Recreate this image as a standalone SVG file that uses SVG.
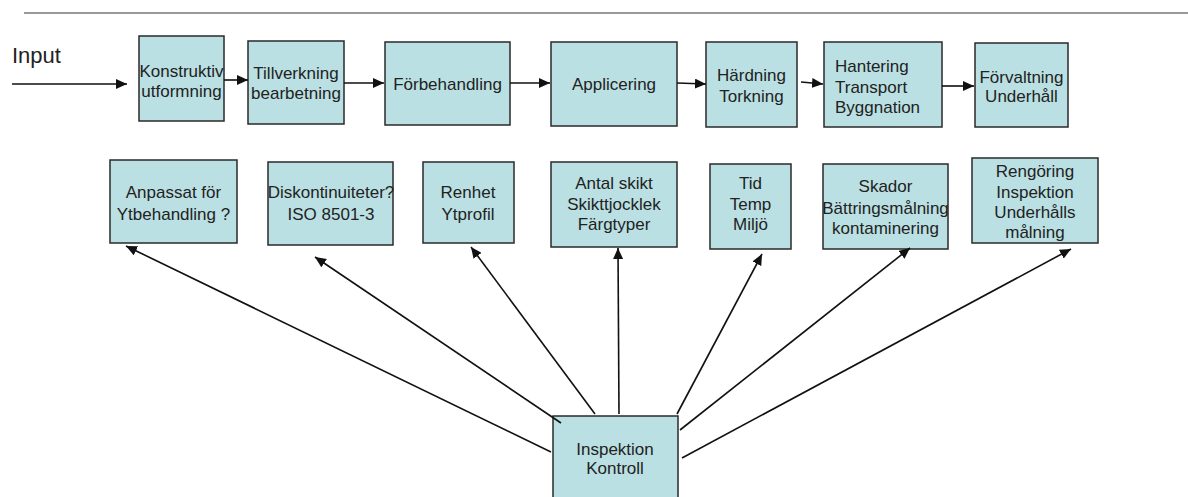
<svg xmlns="http://www.w3.org/2000/svg" width="1188" height="497" viewBox="0 0 1188 497">
<style>
.box{fill:#bae0e3;stroke:#2a2a2a;stroke-width:1.5}
.t{font-family:"Liberation Sans",Arial,sans-serif;font-size:17px;fill:#222;text-anchor:middle}
.tl{text-anchor:start}
.c{stroke:#111;stroke-width:1.6;fill:none;marker-end:url(#ah)}
</style>
<defs>
<marker id="ah" markerUnits="userSpaceOnUse" markerWidth="12" markerHeight="10" refX="11" refY="5" orient="auto">
<path d="M0,0 L11,5 L0,10 Z" fill="#111"/>
</marker>
</defs>
<rect width="1188" height="497" fill="#fff"/>
<line x1="24" y1="13" x2="1188" y2="13" stroke="#777" stroke-width="1.5"/>
<text x="12" y="63" style="font-family:'Liberation Sans',Arial,sans-serif;font-size:22px;fill:#222">Input</text>

<g id="n1"><rect class="box" x="139" y="36" width="85" height="85"/><text class="t" x="181.5" y="77">Konstruktiv</text><text class="t" x="181.5" y="97">utformning</text></g>
<g id="n2"><rect class="box" x="248" y="41" width="96" height="83"/><text class="t" x="296" y="79">Tillverkning</text><text class="t" x="296" y="99">bearbetning</text></g>
<g id="n3"><rect class="box" x="385" y="42" width="125" height="83"/><text class="t" x="447.5" y="90">Förbehandling</text></g>
<g id="n4"><rect class="box" x="551" y="42" width="126" height="84"/><text class="t" x="614" y="90">Applicering</text></g>
<g id="n5"><rect class="box" x="706" y="42" width="91" height="85"/><text class="t" x="751.5" y="81">Härdning</text><text class="t" x="751.5" y="102">Torkning</text></g>
<g id="n6"><rect class="box" x="824" y="42" width="118" height="85"/><text class="t tl" x="835" y="72">Hantering</text><text class="t tl" x="835" y="93">Transport</text><text class="t tl" x="835" y="113">Byggnation</text></g>
<g id="n7"><rect class="box" x="975" y="43" width="93" height="84"/><text class="t" x="1021.5" y="83">Förvaltning</text><text class="t" x="1021.5" y="102">Underhåll</text></g>

<g id="a"><rect class="box" x="110" y="160" width="127" height="83"/><text class="t" x="173.5" y="198">Anpassat för</text><text class="t" x="173.5" y="220">Ytbehandling ?</text></g>
<g id="b"><rect class="box" x="268" y="162" width="125" height="83"/><text class="t" x="331" y="198">Diskontinuiteter?</text><text class="t" x="331" y="220">ISO 8501-3</text></g>
<g id="c"><rect class="box" x="423" y="162" width="91" height="81"/><text class="t" x="468" y="198">Renhet</text><text class="t" x="468" y="220">Ytprofil</text></g>
<g id="d"><rect class="box" x="551" y="162" width="126" height="85"/><text class="t" x="614" y="189">Antal skikt</text><text class="t" x="614" y="210">Skikttjocklek</text><text class="t" x="614" y="230">Färgtyper</text></g>
<g id="e"><rect class="box" x="710" y="164" width="81" height="85"/><text class="t" x="750.5" y="189">Tid</text><text class="t" x="750.5" y="210">Temp</text><text class="t" x="750.5" y="230">Miljö</text></g>
<g id="f"><rect class="box" x="823" y="164" width="125" height="85"/><text class="t" x="885.5" y="192">Skador</text><text class="t" x="885.5" y="214">Bättringsmålning</text><text class="t" x="885.5" y="234">kontaminering</text></g>
<g id="g"><rect class="box" x="972" y="158" width="126" height="85"/><text class="t" x="1035" y="177">Rengöring</text><text class="t" x="1035" y="198">Inspektion</text><text class="t" x="1035" y="218">Underhålls</text><text class="t" x="1035" y="238">målning</text></g>
<g id="h"><rect class="box" x="553" y="416" width="125" height="90"/><text class="t" x="615" y="455">Inspektion</text><text class="t" x="615" y="474">Kontroll</text></g>

<g id="connectors">
<line class="c" x1="12" y1="84" x2="127" y2="84"/>
<line class="c" x1="224" y1="80" x2="248" y2="80"/>
<line class="c" x1="344" y1="83" x2="384" y2="83"/>
<line class="c" x1="510" y1="83" x2="550" y2="83"/>
<line class="c" x1="677" y1="83" x2="706" y2="84"/>
<line class="c" x1="801" y1="82" x2="823" y2="84"/>
<line class="c" x1="942" y1="86" x2="974" y2="86"/>
<line class="c" x1="551" y1="452" x2="126" y2="246"/>
<line class="c" x1="561" y1="423" x2="315" y2="257"/>
<line class="c" x1="595" y1="414" x2="471" y2="247"/>
<line class="c" x1="619" y1="414" x2="618" y2="248"/>
<line class="c" x1="677" y1="414" x2="762" y2="254"/>
<line class="c" x1="680" y1="430" x2="910" y2="248"/>
<line class="c" x1="682" y1="458" x2="1071" y2="249"/>
</g>
</svg>
